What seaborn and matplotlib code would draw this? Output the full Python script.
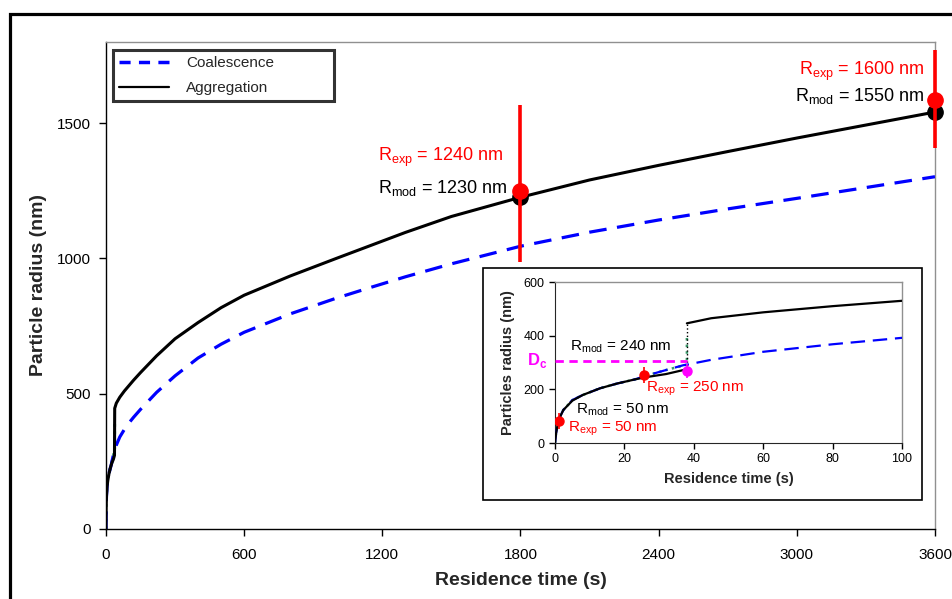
import matplotlib
matplotlib.use('Agg')
import matplotlib.pyplot as plt
from matplotlib.lines import Line2D
from matplotlib.patches import Rectangle
import pandas as pd
import seaborn as sns

# residence time (s) and model radii (nm)
time_s = [0, 0.3, 1, 2.4, 5, 8, 13, 18, 23, 26, 32, 37, 38, 45, 60, 80, 100, 120, 150,
          220, 300, 400, 500, 600, 800, 1000, 1150, 1300, 1500, 1800, 2100, 2400, 2700,
          3000, 3300, 3600]
r_aggregation = [0, 36, 86, 123, 158, 179, 204, 222, 237, 245, 257, 272, 446, 465, 487,
                 510, 530, 550, 578, 640, 703, 763, 818, 864, 935, 1000, 1048, 1096, 1155,
                 1226, 1290, 1344, 1395, 1445, 1493, 1541]
r_coalescence = [0, 36, 86, 123, 160, 179, 204, 222, 237, 250, 272, 290, 292, 310, 340,
                 368, 392, 413, 442, 505, 566, 632, 683, 727, 795, 853, 893, 932, 980,
                 1045, 1097, 1142, 1183, 1222, 1262, 1302]

# faint green trace hidden under the other curves at early times
t_green = [0, 0.3, 1, 2.4, 5, 8, 13, 18, 23, 26, 32, 38, 38]
r_green = [0, 36, 86, 123, 160, 179, 204, 222, 237, 250, 272, 292, 405]

# experimental vs model radii at the two long residence times
t_points = [1800, 3600]
r_exp = [1250, 1585]
r_mod = [1228, 1541]
err_low = [264, 176]
err_high = [317, 184]

# inset (first 100 s)
t_exp_inset = [1.25, 25.5]
r_exp_inset = [82, 253]
err_inset = [30, 30]
t_crit = 38
r_crit = 268
err_crit = 25
d_c = 305

df = pd.DataFrame({'t': time_s, 'agg': r_aggregation, 'coal': r_coalescence})
df_green = pd.DataFrame({'t': t_green, 'r': r_green})

sns.set_style('ticks')
plt.rcParams['font.family'] = ['Liberation Sans', 'DejaVu Sans']
plt.rcParams['mathtext.fontset'] = 'custom'
plt.rcParams['mathtext.rm'] = 'Liberation Sans'

fig = plt.figure(figsize=(9.52, 5.99), dpi=100)

# outer frame (cut at the right and bottom like the source image)
fig.add_artist(Rectangle((0.011, -0.1), 1.2, 1.0758, transform=fig.transFigure,
                         fill=False, edgecolor='black', linewidth=2.3, zorder=0.5))

ax = fig.add_axes([0.1113, 0.1169, 0.8708, 0.813])
ax.set_zorder(1)

blue = '#0000FF'
red = '#FF0000'
magenta = '#FF00FF'

sns.lineplot(data=df_green, x='t', y='r', ax=ax, sort=False, estimator=None,
             color='#3a9a6a', linestyle=':', linewidth=2, zorder=2)
sns.lineplot(data=df, x='t', y='coal', ax=ax, estimator=None, color=blue,
             linewidth=2.3, zorder=3).lines[-1].set_dashes((5.5, 3.3))
sns.lineplot(data=df, x='t', y='agg', ax=ax, estimator=None, color='black',
             linewidth=2.2, zorder=4)

ax.plot(t_points, r_mod, 'o', color='black', markersize=11, zorder=5, clip_on=False)
ax.errorbar(t_points, r_exp, yerr=[err_low, err_high], fmt='o', color=red,
            markersize=11, elinewidth=2.6, capsize=0, zorder=6, clip_on=False)

ax.text(1181, 1373, r'R$_{\mathregular{exp}}$ = 1240 nm', color=red, fontsize=13,
        va='center', ha='left')
ax.text(1181, 1262, r'R$_{\mathregular{mod}}$ = 1230 nm', color='black', fontsize=13,
        va='center', ha='left')
ax.text(3556, 1693, r'R$_{\mathregular{exp}}$ = 1600 nm', color=red, fontsize=13,
        va='center', ha='right')
ax.text(3556, 1600, r'R$_{\mathregular{mod}}$ = 1550 nm', color='black', fontsize=13,
        va='center', ha='right')

ax.set_xlim(0, 3600)
ax.set_ylim(0, 1800)
ax.set_xticks([0, 600, 1200, 1800, 2400, 3000, 3600])
ax.set_yticks([0, 500, 1000, 1500])
ax.tick_params(direction='out', length=5, width=1, labelsize=11, colors='black')
ax.tick_params(axis='x', pad=9)
ax.tick_params(axis='y', pad=6)
ax.set_xlabel('Residence time (s)', fontsize=14, fontweight='bold')
ax.set_ylabel('Particle radius (nm)', fontsize=14, fontweight='bold')
ax.xaxis.set_label_coords(0.5, -0.088)
ax.yaxis.set_label_coords(-0.071, 0.5)
for side in ['top', 'right']:
    ax.spines[side].set_visible(True)
    ax.spines[side].set_color('#909090')
    ax.spines[side].set_linewidth(1)
for side in ['left', 'bottom']:
    ax.spines[side].set_color('black')
    ax.spines[side].set_linewidth(1)

handles = [Line2D([], [], color=blue, linewidth=2.5, linestyle=(0, (3.2, 2.4))),
           Line2D([], [], color='black', linewidth=1.6)]
leg = ax.legend(handles, ['Coalescence', 'Aggregation'], loc='upper left',
                bbox_to_anchor=(0.0084, 0.983, 0.2666, 0.0), mode='expand',
                borderaxespad=0, fontsize=11, handlelength=3.3, handletextpad=1.1,
                fancybox=False, frameon=True, labelspacing=0.72, borderpad=0.4)
leg.get_frame().set_edgecolor('black')
leg.get_frame().set_linewidth(2.2)

# white box holding the inset
fig.add_artist(Rectangle((0.5074, 0.1653), 0.4611, 0.3873, transform=fig.transFigure,
                         facecolor='white', edgecolor='black', linewidth=1.2, zorder=2))

ins = fig.add_axes([0.583, 0.2604, 0.3645, 0.2688])
ins.set_zorder(3)

early = df[df['t'] <= 37]
late = df[(df['t'] >= 38) & (df['t'] <= 100)]
sns.lineplot(data=df_green, x='t', y='r', ax=ins, sort=False, estimator=None,
             color='#3a9a6a', linestyle=':', linewidth=1.8, zorder=2)
sns.lineplot(data=df[df['t'] <= 100], x='t', y='coal', ax=ins, estimator=None,
             color=blue, linewidth=1.6, zorder=3).lines[-1].set_dashes((6.5, 3.5))
sns.lineplot(data=early, x='t', y='agg', ax=ins, estimator=None, color='black',
             linewidth=1.6, zorder=4)
sns.lineplot(data=late, x='t', y='agg', ax=ins, estimator=None, color='black',
             linewidth=1.6, zorder=4)
ins.plot([t_crit, t_crit], [early['agg'].iloc[-1] + 15, late['agg'].iloc[0]],
         color='black', linestyle=':', linewidth=1, zorder=4)
ins.plot([0, t_crit], [d_c, d_c], color=magenta, linestyle=(0, (3, 2)), linewidth=2, zorder=5)

ins.errorbar(t_exp_inset, r_exp_inset, yerr=err_inset, fmt='o', color=red,
             markersize=6.5, elinewidth=1.2, capsize=0, zorder=6)
ins.errorbar([t_crit], [r_crit], yerr=[err_crit], fmt='o', color=magenta,
             markersize=6.5, elinewidth=1.2, capsize=0, zorder=6)

ins.text(4.3, 359, r'R$_{\mathregular{mod}}$ = 240 nm', color='black', fontsize=11,
         va='center', ha='left')
ins.text(-2.3, 307, r'D$_{\mathregular{c}}$', color=magenta, fontsize=12,
         fontweight='bold', va='center', ha='right')
ins.text(26.2, 204, r'R$_{\mathregular{exp}}$ = 250 nm', color=red, fontsize=11,
         va='center', ha='left')
ins.text(6.0, 123, r'R$_{\mathregular{mod}}$ = 50 nm', color='black', fontsize=11,
         va='center', ha='left')
ins.text(3.8, 55, r'R$_{\mathregular{exp}}$ = 50 nm', color=red, fontsize=11,
         va='center', ha='left')

ins.set_xlim(0, 100)
ins.set_ylim(0, 600)
ins.set_xticks([0, 20, 40, 60, 80, 100])
ins.set_yticks([0, 200, 400, 600])
ins.tick_params(direction='out', length=4, width=1, labelsize=9, colors='black')
ins.set_xlabel('Residence time (s)', fontsize=10.5, fontweight='bold', labelpad=5)
ins.set_ylabel('Particles radius (nm)', fontsize=10.5, fontweight='bold', labelpad=6)
for side in ['top', 'right']:
    ins.spines[side].set_visible(True)
    ins.spines[side].set_color('#909090')
    ins.spines[side].set_linewidth(1)

fig.savefig('out.png', dpi=100)
